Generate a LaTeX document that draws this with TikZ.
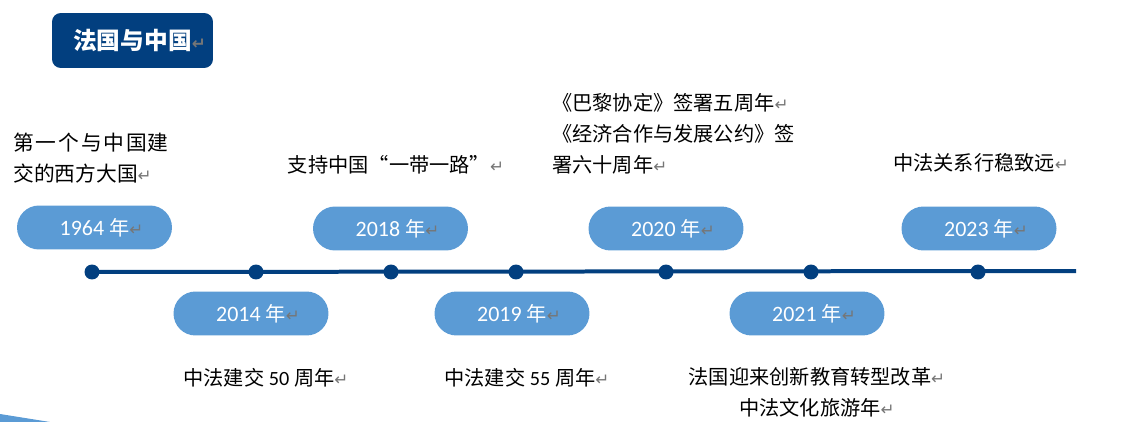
\documentclass[tikz,border=0pt]{standalone}
\usepackage{fontspec}
\setmainfont{Carlito}
\newfontfamily\cjk{Noto Sans CJK SC}
\newfontfamily\symfont{DejaVu Sans}
\usetikzlibrary{positioning}
\definecolor{navy}{HTML}{023F7F}
\definecolor{pillblue}{HTML}{5B9BD5}
\definecolor{retgray}{HTML}{767676}
\newcommand{\ret}{{\color{retgray}\symfont\fontsize{9.5}{9.5}\selectfont ↵}}
\newcommand{\lat}[1]{{\rmfamily#1}}

\begin{document}
\begin{tikzpicture}[
      x=0.02cm, y=-0.02cm,
      titlebox/.style={fill=navy, rounded corners=5pt, minimum width=3.22cm, minimum height=1.1cm, inner sep=0pt, text=white, font=\cjk\bfseries\fontsize{13.5}{16}\selectfont},
      pill/.style={fill=pillblue, rounded corners=0.44cm, minimum width=3.1cm, minimum height=0.88cm, inner sep=0pt, text=white, font=\cjk\fontsize{11.5}{13}\selectfont},
      dot/.style={circle, fill=navy, minimum size=0.3cm, inner sep=0pt},
      tline/.style={navy, line width=0.08cm},
      note/.style={inner sep=0pt, text=black, font=\cjk\fontsize{11.5}{17.6}\selectfont},
    ]
      \useasboundingbox (0,0) rectangle (1125,422);
      \fill[pillblue] (0,414) -- (50,422) -- (0,422) -- cycle;

      \node[titlebox] (title) at (132.5,40.5) {法国与中国\rlap{\ret}};

      \foreach \n/\x in {1/92,2/256,3/391,4/516,5/666,6/811,7/978}
        \node[dot] (d\n) at (\x,272) {};
      \coordinate (lend) at (1076,271);
      \draw[tline] (d1.center) -- (lend);

      \node[pill] (y1964) at (94.5,227.5) {\lat{\fontsize{12.5}{13}\selectfont 1964 }年\rlap{\ret}};
      \node[pill] (y2018) at (390.5,228.5) {\lat{\fontsize{12.5}{13}\selectfont 2018 }年\rlap{\ret}};
      \node[pill] (y2020) at (666,228.5) {\lat{\fontsize{12.5}{13}\selectfont 2020 }年\rlap{\ret}};
      \node[pill] (y2023) at (979,228.5) {\lat{\fontsize{12.5}{13}\selectfont 2023 }年\rlap{\ret}};
      \node[pill] (y2014) at (251,313.5) {\lat{\fontsize{12.5}{13}\selectfont 2014 }年\rlap{\ret}};
      \node[pill] (y2019) at (512,313.5) {\lat{\fontsize{12.5}{13}\selectfont 2019 }年\rlap{\ret}};
      \node[pill] (y2021) at (807,313.5) {\lat{\fontsize{12.5}{13}\selectfont 2021 }年\rlap{\ret}};

      \node[note, anchor=north west, align=left, font=\cjk\fontsize{11.8}{17.6}\selectfont] (t1964) at (13,133) {{\addfontfeature{LetterSpace=9}第一个与中国}建\\交的西方大国\ret};
      \node[note, anchor=north] (t2018) at (389,155) {支持中国“一带一路”\rlap{\ret}};
      \node[note, anchor=north west, align=left] (t2020) at (552,93) {《巴黎协定》签署五周年\ret\\《经济合作与发展公约》签\\署六十周年\ret};
      \node[note, anchor=north] (t2023) at (974,153) {中法关系行稳致远\rlap{\ret}};
      \node[note, anchor=north] (t2014) at (259,368) {中法建交\lat{ 50 }周年\rlap{\ret}};
      \node[note, anchor=north] (t2019) at (520,368) {中法建交\lat{ 55 }周年\rlap{\ret}};
      \node[note, anchor=north, align=center] (t2021) at (810,367) {法国迎来创新教育转型改革\rlap{\ret}\\中法文化旅游年\rlap{\ret}};
    \end{tikzpicture}
\end{document}
